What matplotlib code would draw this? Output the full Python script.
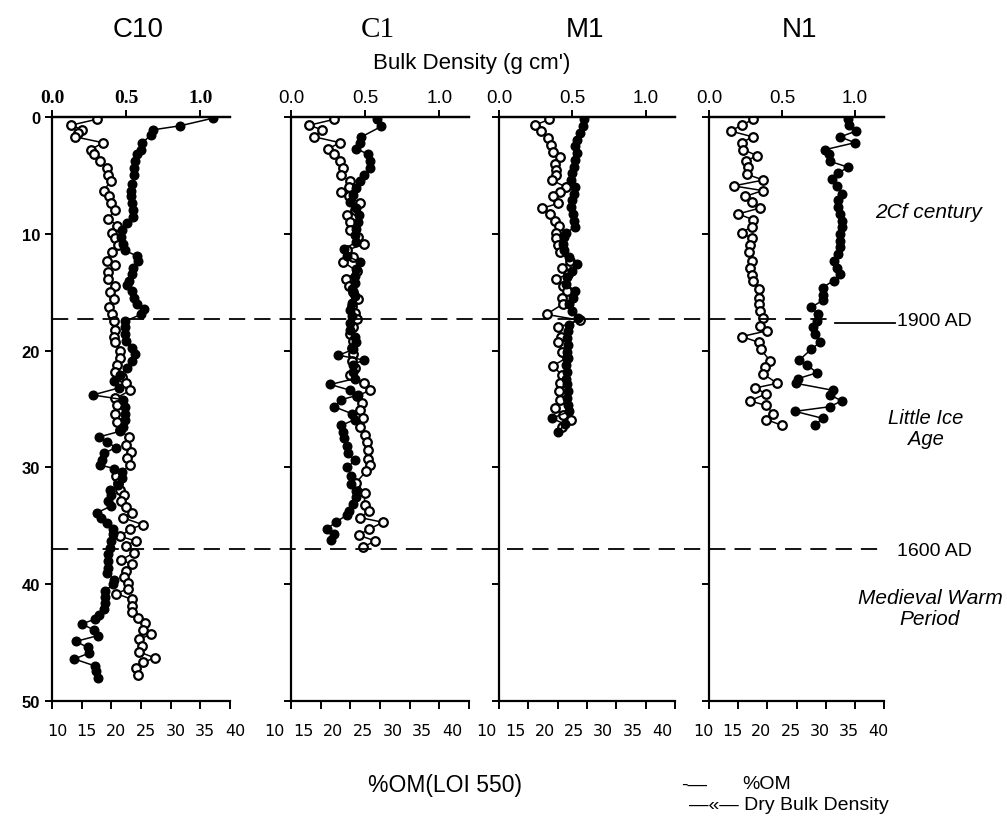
import matplotlib
matplotlib.use('Agg')
import matplotlib.pyplot as plt
from matplotlib.lines import Line2D
from matplotlib.transforms import blended_transform_factory, ScaledTranslation

# Core C10
c10_bd_depth = [0.1, 0.75, 1.1, 1.5, 2.2, 2.8, 3.2, 3.8, 4.4, 5.0, 5.7, 6.3, 6.8, 7.4, 8.0, 8.6, 9.1, 9.7, 10.3, 10.9,
                11.4, 11.9, 12.3, 12.9, 13.4, 14.0, 14.4, 14.9, 15.5, 16.0, 16.4, 16.9, 17.5, 18.0, 18.6, 19.2, 19.8, 20.3,
                20.9, 21.5, 22.1, 22.6, 23.2, 23.8, 24.2, 24.8, 25.4, 25.9, 26.5, 26.9, 27.4, 27.8, 28.3, 28.8, 29.4, 29.8,
                30.1, 30.4, 30.9, 31.5, 31.9, 32.4, 32.9, 33.3, 33.9, 34.3, 34.8, 35.3, 35.7, 36.3, 36.9, 37.4, 38.0, 38.6,
                39.0, 39.6, 40.0, 40.6, 41.1, 41.6, 42.1, 42.6, 43.0, 43.4, 43.9, 44.4, 44.9, 45.4, 45.9, 46.4, 47.0, 47.4, 48.0]
c10_bd = [1.085, 0.865, 0.68, 0.67, 0.61, 0.60, 0.57, 0.56, 0.555, 0.55, 0.54, 0.53, 0.53, 0.54, 0.545, 0.545, 0.505, 0.47,
          0.465, 0.48, 0.49, 0.57, 0.58, 0.545, 0.54, 0.52, 0.505, 0.54, 0.55, 0.57, 0.62, 0.60, 0.49, 0.49, 0.49, 0.50,
          0.54, 0.56, 0.54, 0.505, 0.46, 0.415, 0.45, 0.275, 0.48, 0.49, 0.49, 0.49, 0.48, 0.46, 0.315, 0.37, 0.43, 0.35,
          0.34, 0.325, 0.42, 0.47, 0.47, 0.445, 0.39, 0.40, 0.38, 0.40, 0.30, 0.33, 0.37, 0.41, 0.41, 0.40, 0.39, 0.38,
          0.375, 0.375, 0.37, 0.415, 0.41, 0.36, 0.36, 0.36, 0.35, 0.32, 0.29, 0.20, 0.28, 0.31, 0.16, 0.24, 0.25, 0.15,
          0.29, 0.295, 0.31]
c10_om_depth = [0.2, 0.7, 1.1, 1.4, 1.7, 2.2, 2.8, 3.2, 3.8, 4.4, 5.0, 5.5, 6.3, 6.8, 7.4, 8.0, 8.7, 9.3, 9.9, 10.4,
                11.0, 11.6, 12.3, 12.7, 13.3, 13.9, 14.5, 15.0, 15.6, 16.3, 16.9, 17.5, 18.2, 18.8, 19.3, 20.0, 20.6, 21.2,
                21.8, 22.3, 22.8, 23.4, 24.1, 24.7, 25.4, 26.1, 26.8, 27.4, 28.1, 28.7, 29.2, 29.8, 30.7, 31.3, 31.9, 32.4,
                32.9, 33.4, 33.9, 34.3, 34.9, 35.3, 35.9, 36.3, 36.7, 37.3, 37.9, 38.3, 38.9, 39.4, 39.9, 40.4, 40.8, 41.3,
                41.9, 42.4, 42.9, 43.3, 43.9, 44.3, 44.7, 45.3, 45.8, 46.3, 46.7, 47.2, 47.8]
c10_om = [17.5, 13.2, 15.1, 14.3, 13.9, 18.6, 16.5, 17.0, 18.1, 19.2, 19.4, 19.9, 18.7, 19.6, 19.9, 20.7, 19.4, 21.0, 20.1,
          20.7, 21.2, 20.1, 19.2, 20.7, 19.4, 19.4, 20.7, 19.8, 20.4, 19.6, 20.1, 20.4, 20.7, 20.4, 20.7, 21.5, 21.5, 21.0,
          20.7, 21.8, 22.5, 23.2, 20.7, 21.0, 20.7, 21.0, 21.5, 22.9, 22.5, 23.3, 22.6, 23.2, 20.8, 21.1, 21.4, 22.2, 21.7,
          22.4, 23.4, 21.9, 25.3, 23.1, 21.5, 24.1, 22.4, 23.9, 21.7, 23.4, 22.5, 22.1, 22.8, 22.8, 20.8, 23.5, 23.4, 23.5,
          24.5, 25.6, 25.3, 26.7, 24.7, 25.2, 24.7, 27.3, 25.4, 24.2, 24.5]

# Core C1
c1_bd_depth = [0.2, 0.8, 1.7, 2.2, 2.7, 3.2, 3.8, 4.4, 5.0, 5.5, 6.1, 6.7, 7.3, 7.8, 8.4, 9.0, 9.6, 10.1, 10.7, 11.3,
               11.9, 12.4, 13.0, 13.6, 14.2, 14.7, 15.3, 15.9, 16.5, 17.0, 17.6, 18.2, 18.8, 19.3, 19.9, 20.4, 20.8, 21.2,
               21.8, 22.4, 22.9, 23.4, 23.8, 24.2, 24.8, 25.4, 25.9, 26.4, 27.0, 27.5, 28.2, 28.8, 29.4, 30.0, 30.7, 31.4,
               32.0, 32.5, 33.1, 33.7, 34.1, 34.7, 35.3, 35.7, 36.2]
c1_bd = [0.58, 0.61, 0.475, 0.465, 0.44, 0.52, 0.53, 0.53, 0.49, 0.465, 0.44, 0.42, 0.40, 0.44, 0.46, 0.455, 0.44, 0.43,
         0.44, 0.36, 0.375, 0.465, 0.44, 0.43, 0.43, 0.41, 0.43, 0.41, 0.40, 0.41, 0.40, 0.40, 0.43, 0.44, 0.42, 0.32,
         0.49, 0.42, 0.42, 0.43, 0.265, 0.40, 0.455, 0.34, 0.29, 0.41, 0.43, 0.34, 0.35, 0.36, 0.375, 0.385, 0.43, 0.38,
         0.405, 0.405, 0.44, 0.44, 0.415, 0.39, 0.375, 0.30, 0.24, 0.29, 0.27]
c1_om_depth = [0.2, 0.7, 1.1, 1.7, 2.2, 2.7, 3.2, 3.8, 4.4, 5.0, 5.5, 6.0, 6.4, 6.8, 7.4, 8.0, 8.4, 9.0, 9.7, 10.3,
               10.9, 11.4, 12.0, 12.4, 13.2, 13.9, 14.5, 15.0, 15.6, 16.2, 16.8, 17.3, 18.0, 18.6, 19.2, 19.8, 20.3, 20.9,
               21.5, 22.1, 22.8, 23.4, 23.9, 24.5, 25.1, 25.8, 26.5, 27.2, 27.8, 28.5, 29.3, 29.8, 30.3, 31.3, 32.2, 33.2,
               33.7, 34.3, 34.7, 35.3, 35.8, 36.3, 36.8]
c1_om = [17.3, 13.1, 15.2, 13.9, 18.3, 16.3, 17.2, 18.3, 18.8, 18.5, 19.9, 19.7, 18.5, 19.8, 21.6, 20.8, 19.5, 19.9, 19.9,
         21.3, 22.3, 19.4, 20.5, 18.8, 21.1, 19.3, 19.8, 20.5, 21.3, 20.2, 20.8, 21.1, 20.4, 19.9, 20.5, 20.2, 20.4, 20.2,
         20.8, 19.9, 22.3, 23.3, 21.1, 21.9, 21.6, 22.2, 21.6, 22.5, 22.8, 23.0, 23.0, 23.3, 22.7, 21.0, 22.4, 22.4, 23.2,
         21.7, 25.5, 23.1, 21.4, 24.2, 22.2]

# Core M1
m1_bd_depth = [0.2, 0.8, 1.4, 2.0, 2.5, 3.1, 3.7, 4.3, 4.8, 5.4, 6.0, 6.6, 7.1, 7.7, 8.3, 8.9, 9.4, 9.9, 10.3, 10.9,
               11.4, 12.0, 12.6, 13.2, 13.7, 14.3, 14.9, 15.5, 16.0, 16.6, 17.2, 17.8, 18.3, 18.9, 19.5, 20.1, 20.6, 21.2,
               21.8, 22.4, 22.9, 23.5, 24.1, 24.7, 25.2, 25.8, 26.3, 27.0]
m1_bd = [0.58, 0.57, 0.55, 0.53, 0.52, 0.53, 0.52, 0.51, 0.50, 0.49, 0.52, 0.51, 0.50, 0.49, 0.505, 0.51, 0.52, 0.46,
         0.44, 0.435, 0.44, 0.48, 0.53, 0.50, 0.465, 0.455, 0.52, 0.505, 0.48, 0.50, 0.54, 0.48, 0.47, 0.465, 0.47,
         0.465, 0.47, 0.455, 0.465, 0.46, 0.465, 0.47, 0.465, 0.47, 0.48, 0.36, 0.45, 0.40]
m1_om_depth = [0.2, 0.7, 1.2, 1.8, 2.4, 3.0, 3.4, 4.0, 4.5, 5.0, 5.4, 6.0, 6.4, 6.8, 7.4, 7.8, 8.3, 8.9, 9.3, 9.9,
               10.4, 11.0, 11.6, 12.3, 12.9, 13.4, 13.9, 14.5, 14.9, 15.5, 16.0, 16.9, 17.4, 18.0, 18.8, 19.3, 20.1, 20.6,
               21.3, 22.1, 22.8, 23.5, 24.2, 24.9, 25.5, 25.9, 26.5]
m1_om = [18.6, 16.1, 17.1, 18.4, 18.8, 19.2, 20.4, 19.5, 19.7, 19.8, 19.0, 21.4, 20.4, 19.2, 20.1, 17.4, 18.7, 19.5, 20.3,
         19.8, 19.7, 20.1, 20.4, 22.1, 20.7, 21.8, 19.8, 20.9, 21.6, 20.7, 20.9, 18.1, 23.8, 20.1, 20.5, 20.1, 20.8, 21.6,
         19.2, 20.7, 20.4, 20.3, 20.4, 19.5, 20.9, 22.2, 20.7]

# Core N1
n1_bd_depth = [0.2, 0.7, 1.2, 1.7, 2.2, 2.8, 3.2, 3.8, 4.3, 4.8, 5.3, 5.9, 6.6, 7.1, 7.7, 8.3, 8.9, 9.4, 10.0, 10.6,
               11.1, 11.7, 12.3, 12.9, 13.4, 14.0, 14.6, 15.2, 15.7, 16.3, 16.9, 17.5, 18.0, 18.6, 19.3, 19.9, 20.8, 21.2,
               21.9, 22.4, 22.8, 23.4, 23.8, 24.3, 24.8, 25.2, 25.8, 26.4]
n1_bd = [0.95, 0.96, 1.01, 0.90, 1.00, 0.795, 0.82, 0.83, 0.955, 0.885, 0.84, 0.875, 0.91, 0.885, 0.885, 0.90, 0.91, 0.91,
         0.90, 0.895, 0.90, 0.885, 0.86, 0.875, 0.90, 0.855, 0.78, 0.78, 0.78, 0.70, 0.75, 0.74, 0.715, 0.725, 0.76, 0.70,
         0.62, 0.67, 0.74, 0.61, 0.595, 0.85, 0.83, 0.91, 0.83, 0.59, 0.78, 0.725]
n1_om_depth = [0.2, 0.7, 1.2, 1.7, 2.2, 2.8, 3.3, 3.8, 4.3, 4.9, 5.4, 5.9, 6.3, 6.8, 7.3, 7.8, 8.3, 8.8, 9.4, 9.9,
               10.4, 11.0, 11.6, 12.3, 12.9, 13.5, 14.0, 14.7, 15.5, 16.0, 16.6, 17.2, 17.9, 18.3, 18.8, 19.3, 19.9, 20.9,
               21.4, 22.0, 22.8, 23.2, 23.7, 24.3, 24.7, 25.4, 25.9, 26.4]
n1_om = [17.6, 15.6, 13.7, 17.5, 15.6, 15.9, 18.2, 16.3, 16.7, 16.5, 19.3, 14.2, 19.2, 16.2, 17.3, 18.7, 15.0, 17.6, 17.3,
         15.6, 17.3, 17.0, 16.9, 17.3, 17.1, 17.3, 17.6, 18.6, 18.6, 18.6, 18.7, 19.3, 18.7, 20.0, 15.6, 18.6, 18.9, 20.5,
         19.6, 19.3, 21.7, 17.9, 19.8, 17.0, 19.8, 21.0, 19.8, 22.5]

core_names = ['C10', 'C1', 'M1', 'N1']
om_ticks = [10, 15, 20, 25, 30, 35, 40]
bd_ticks = [0.0, 0.5, 1.0]
depth_ticks = [0, 10, 20, 30, 40, 50]
horizons = [17.3, 37.0]

cores = [(c10_om_depth, c10_om, c10_bd_depth, c10_bd),
         (c1_om_depth, c1_om, c1_bd_depth, c1_bd),
         (m1_om_depth, m1_om, m1_bd_depth, m1_bd),
         (n1_om_depth, n1_om, n1_bd_depth, n1_bd)]

W, H = 1007, 820
SANS = 'Liberation Sans'
SERIF = 'Liberation Serif'


def fx(x):
    return x / W


def fy(y):
    return 1 - y / H


fig = plt.figure(figsize=(W / 100, H / 100), dpi=100)
plt.rcParams['font.family'] = SANS

# panel positions in pixels (left, width) and shift of the bottom labels
panels = [(52, 178), (291, 178), (499, 176), (709, 175)]
label_shift = [5, -17, -13, -6]
top_px, bot_px = 118, 702

axes = []
for i, ((om_d, om, bd_d, bd), (left, width)) in enumerate(zip(cores, panels)):
    ax = fig.add_axes([fx(left), fy(bot_px), width / W, (bot_px - top_px) / H])
    axt = ax.twiny()

    ax.plot(om, om_d, '-', color='black', lw=1.1, marker='o', ms=6.2,
            mfc='white', mec='black', mew=1.6, zorder=3)
    axt.plot(bd, bd_d, '-', color='black', lw=1.1, marker='o', ms=6.2,
             mfc='black', mec='black', zorder=4)

    ax.set_xlim(10, 40)
    axt.set_xlim(0, 1.2)
    ax.set_ylim(50, 0)

    for a in (ax, axt):
        a.spines['right'].set_visible(False)
        for s in ('left', 'top', 'bottom'):
            a.spines[s].set_linewidth(1.6)
    axt.spines['bottom'].set_visible(False)
    axt.spines['left'].set_visible(False)

    ax.set_xticks(om_ticks)
    ax.set_xticklabels([str(t) for t in om_ticks], fontfamily='DejaVu Sans', fontsize=11.5)
    ax.tick_params(axis='x', direction='out', length=6, width=1.4, pad=10)
    shift = ScaledTranslation(label_shift[i] / 100, 0, fig.dpi_scale_trans)
    for lab in ax.get_xticklabels():
        lab.set_transform(lab.get_transform() + shift)

    ax.set_yticks(depth_ticks)
    ax.tick_params(axis='y', direction='out', length=5, width=1.4)
    if i == 0:
        ax.set_yticklabels([str(t) for t in depth_ticks], fontweight='bold', fontsize=12)
    else:
        ax.set_yticklabels([])

    axt.set_xticks(bd_ticks)
    axt.tick_params(axis='x', direction='out', length=5, width=1.4, pad=3)
    if i == 0:
        axt.set_xticklabels(['0.0', '0.5', '1.0'], fontfamily=SERIF, fontweight='bold', fontsize=14)
    else:
        axt.set_xticklabels(['0.0', '0.5', '1.0'], fontsize=13.5)
    axes.append(ax)

# period boundaries
trans = blended_transform_factory(fig.transFigure, axes[0].transData)
fig.add_artist(Line2D([fx(52), fx(832)], [horizons[0], horizons[0]], transform=trans,
                      color='black', lw=1.3, ls=(0, (9, 5))))
fig.add_artist(Line2D([fx(835), fx(895)], [horizons[0] + 0.3, horizons[0] + 0.3], transform=trans,
                      color='black', lw=1.3))
fig.add_artist(Line2D([fx(52), fx(878)], [horizons[1], horizons[1]], transform=trans,
                      color='black', lw=1.3, ls=(0, (9, 5))))

# titles
title_x = [138, 378, 585, 800]
for name, x in zip(core_names, title_x):
    if name == 'C1':
        fig.text(fx(x), fy(30), name, ha='center', va='center', fontsize=21, fontfamily=SERIF)
    else:
        fig.text(fx(x), fy(30), name, ha='center', va='center', fontsize=20)

fig.text(fx(472), fy(63), "Bulk Density (g cm')", ha='center', va='center', fontsize=16)
fig.text(fx(445), fy(786), '%OM(LOI 550)', ha='center', va='center', fontsize=16.5)

# legend
fig.text(fx(681), fy(785), '-\u2014', ha='left', va='center', fontsize=14)
fig.text(fx(742), fy(785), '%OM', ha='left', va='center', fontsize=14)
fig.text(fx(689), fy(806), '\u2014\u00ab\u2014 Dry Bulk Density', ha='left', va='center', fontsize=14)

# period labels
fig.text(fx(929), fy(212), '2Cf century', ha='center', va='center', fontsize=15, style='italic')
fig.text(fx(897), fy(322), '1900 AD', ha='left', va='center', fontsize=14)
fig.text(fx(926), fy(429), 'Little Ice\nAge', ha='center', va='center', fontsize=14.5, style='italic',
         linespacing=1.15)
fig.text(fx(897), fy(551), '1600 AD', ha='left', va='center', fontsize=14)
fig.text(fx(930), fy(609), 'Medieval Warm\nPeriod', ha='center', va='center', fontsize=15, style='italic',
         linespacing=1.15)

plt.savefig('out.png', dpi=100)
plt.close()
